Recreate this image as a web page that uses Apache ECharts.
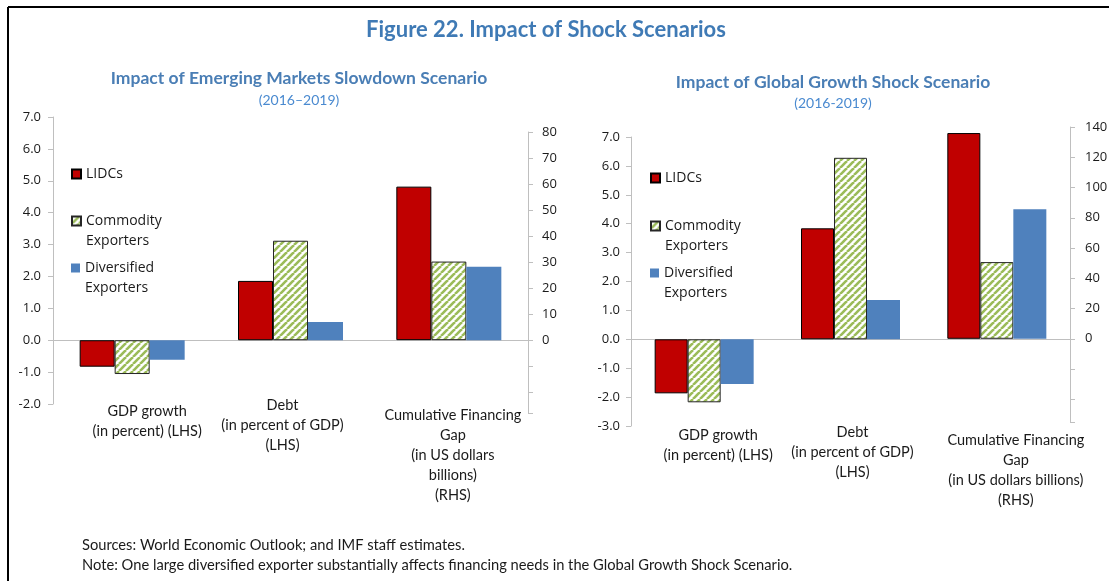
<!DOCTYPE html>
<html>
<head>
<meta charset="utf-8">
<script src="https://cdn.jsdelivr.net/npm/echarts@6/dist/echarts.min.js"></script>
<style>
  html, body { margin: 0; padding: 0; background: #fff; }
  #chart { width: 1109px; height: 581px; }
</style>
</head>
<body>
<div id="chart"></div>
<script>
// categories (last one is read on the right-hand axis)
const categoriesEM = ['GDP growth\n(in percent) (LHS)', 'Debt\n(in percent of GDP)\n(LHS)', 'Cumulative Financing\nGap\n(in US dollars\nbillions)\n(RHS)'];
const categoriesGG = ['GDP growth\n(in percent) (LHS)', 'Debt\n(in percent of GDP)\n(LHS)', 'Cumulative Financing\nGap\n(in US dollars billions)\n(RHS)'];
const seriesNames = ['LIDCs', 'Commodity Exporters', 'Diversified Exporters'];

// Emerging Markets Slowdown scenario
const emLidcs = [-0.83, 1.86, 59];
const emCommodity = [-1.06, 3.12, 30.2];
const emDiversified = [-0.61, 0.57, 28.2];

// Global Growth Shock scenario
const ggLidcs = [-1.87, 3.84, 136];
const ggCommodity = [-2.18, 6.28, 50.7];
const ggDiversified = [-1.55, 1.36, 85.6];

const AXIS_GREY = '#BFBFBF';
const TXT = '#1a1a1a';
const TICK_FONT = 'Open Sans';
const LABEL_FONT = 'Lato';

// diagonal green hatch for commodity exporters
function makeHatch () {
    const s = 7;
    const c = document.createElement('canvas');
    c.width = s;
    c.height = s;
    const ctx = c.getContext('2d');
    ctx.fillStyle = '#fff';
    ctx.fillRect(0, 0, s, s);
    ctx.strokeStyle = '#9BBB59';
    ctx.lineWidth = 2.6;
    [-s, 0, s].forEach(function (k) {
        ctx.beginPath();
        ctx.moveTo(k, s);
        ctx.lineTo(k + s, 0);
        ctx.stroke();
    });
    return c;
}
const hatch = makeHatch();

const styles = {
    'LIDCs': { color: '#C00000', borderColor: '#000', borderWidth: 1 },
    'Commodity Exporters': { color: { image: hatch, repeat: 'repeat' }, borderColor: '#262626', borderWidth: 1 },
    'Diversified Exporters': { color: '#4F81BD', borderWidth: 0 }
};

// split a series: first two categories on LHS, last one on RHS
function bars (name, values, xIdx, yIdx, rhs, width) {
    return {
        type: 'bar',
        name: name,
        xAxisIndex: xIdx,
        yAxisIndex: yIdx,
        barWidth: width,
        barGap: '0%',
        itemStyle: styles[name],
        emphasis: { disabled: true },
        data: values.map(function (v, i) { return (i === 2) === rhs ? v : '-'; })
    };
}

function catAxis (grid, cats, margin, pads, show) {
    return {
        type: 'category',
        gridIndex: grid,
        show: show,
        data: cats.map(function (c, i) {
            return { value: c, textStyle: { padding: pads[i] } };
        }),
        axisLine: { onZero: true, lineStyle: { color: AXIS_GREY } },
        axisTick: { length: 5, lineStyle: { color: AXIS_GREY } },
        axisLabel: {
            interval: 0,
            margin: margin,
            color: TXT,
            fontFamily: LABEL_FONT,
            fontSize: 14.5,
            lineHeight: 20
        }
    };
}

function valAxis (grid, pos, opts, labelFmt, margin) {
    return Object.assign({
        type: 'value',
        gridIndex: grid,
        position: pos,
        splitLine: { show: false },
        axisLine: { show: true, lineStyle: { color: AXIS_GREY } },
        axisTick: { show: true, length: 5, lineStyle: { color: AXIS_GREY } },
        axisLabel: {
            color: TXT,
            fontFamily: TICK_FONT,
            fontSize: 13,
            margin: margin,
            formatter: labelFmt
        }
    }, opts);
}

const lhsFmt = function (v) { return v.toFixed(1); };
const rhsFmt = function (v) { return v < 0 ? '' : String(v); };

function legendItem (name, left, centerY) {
    const twoLines = name.indexOf(' ') > -1;
    return {
        data: [name],
        left: left,
        top: centerY - (twoLines ? 30 : 10),
        padding: 0,
        icon: 'rect',
        itemWidth: 9,
        itemHeight: 9,
        selectedMode: false,
        // empty first line keeps the first word level with the square
        formatter: function (n) {
            return n.indexOf(' ') > -1 ? '\n' + n.split(' ').join('\n') : n;
        },
        textStyle: { fontFamily: TICK_FONT, fontSize: 14, lineHeight: 20, color: TXT }
    };
}

function text (x, y, str, font, color, align) {
    return {
        type: 'text',
        x: x,
        y: y,
        silent: true,
        style: { text: str, font: font, fill: color, align: align || 'center', verticalAlign: 'middle' }
    };
}

const chart = echarts.init(document.getElementById('chart'), null, { renderer: 'canvas' });

const option = {
    animation: false,
    backgroundColor: '#fff',
    grid: [
        { left: 53, top: 117, width: 475, height: 287, outerBoundsMode: 'none' },
        { left: 53, top: 132, width: 475, height: 281, outerBoundsMode: 'none' },
        { left: 631, top: 137, width: 439, height: 289, outerBoundsMode: 'none' },
        { left: 631, top: 127, width: 439, height: 295, outerBoundsMode: 'none' }
    ],
    xAxis: [
        catAxis(0, categoriesEM, -9, [[6, 0, 0, 30], [0, 16, 0, 0], [10, 0, 0, 8]], true),
        catAxis(1, categoriesEM, 0, [0, 0, 0], false),
        catAxis(2, categoriesGG, -4, [[3, 0, 0, 28], [0, 0, 0, 4], [8, 0, 0, 38]], true),
        catAxis(3, categoriesGG, 0, [0, 0, 0], false)
    ],
    yAxis: [
        valAxis(0, 'left', { min: -2, max: 7, interval: 1 }, lhsFmt, 12),
        valAxis(1, 'right', { min: -28, max: 80, splitNumber: 11 }, rhsFmt, 14),
        valAxis(2, 'left', { min: -3, max: 7, interval: 1 }, lhsFmt, 11),
        valAxis(3, 'right', { min: -55, max: 140, splitNumber: 10 }, rhsFmt, 15)
    ],
    legend: [
        legendItem('LIDCs', 71, 174),
        legendItem('Commodity Exporters', 71, 221),
        legendItem('Diversified Exporters', 71, 268),
        legendItem('LIDCs', 650, 178),
        legendItem('Commodity Exporters', 650, 226),
        legendItem('Diversified Exporters', 650, 273)
    ],
    graphic: [
        { type: 'line', silent: true, shape: { x1: 8, y1: 7, x2: 1109, y2: 7 }, style: { stroke: '#000', lineWidth: 2 } },
        { type: 'line', silent: true, shape: { x1: 8, y1: 7, x2: 8, y2: 581 }, style: { stroke: '#000', lineWidth: 2 } },
        text(546, 30, 'Figure 22. Impact of Shock Scenarios', 'bold 22px Lato', '#3F7AB5'),
        text(299, 78, 'Impact of Emerging Markets Slowdown Scenario', 'bold 17.5px Lato', '#4A7EB5'),
        text(299, 100, '(2016–2019)', '14px Lato', '#4A8AD0'),
        text(833, 82, 'Impact of Global Growth Shock Scenario', 'bold 17.5px Lato', '#4A7EB5'),
        text(833, 103, '(2016-2019)', '14px Lato', '#4A8AD0'),
        text(82, 545, 'Sources: World Economic Outlook; and IMF staff estimates.', '14.7px Lato', TXT, 'left'),
        text(82, 565, 'Note: One large diversified exporter substantially affects financing needs in the Global Growth Shock Scenario.', '14.7px Lato', TXT, 'left')
    ],
    series: [
        bars(seriesNames[0], emLidcs, 0, 0, false, 35),
        bars(seriesNames[1], emCommodity, 0, 0, false, 35),
        bars(seriesNames[2], emDiversified, 0, 0, false, 35),
        bars(seriesNames[0], emLidcs, 1, 1, true, 35),
        bars(seriesNames[1], emCommodity, 1, 1, true, 35),
        bars(seriesNames[2], emDiversified, 1, 1, true, 35),
        bars(seriesNames[0], ggLidcs, 2, 2, false, 33),
        bars(seriesNames[1], ggCommodity, 2, 2, false, 33),
        bars(seriesNames[2], ggDiversified, 2, 2, false, 33),
        bars(seriesNames[0], ggLidcs, 3, 3, true, 33),
        bars(seriesNames[1], ggCommodity, 3, 3, true, 33),
        bars(seriesNames[2], ggDiversified, 3, 3, true, 33)
    ]
};

chart.setOption(option);
window.addEventListener('resize', function () {
    chart.resize();
});
</script>
</body>
</html>
